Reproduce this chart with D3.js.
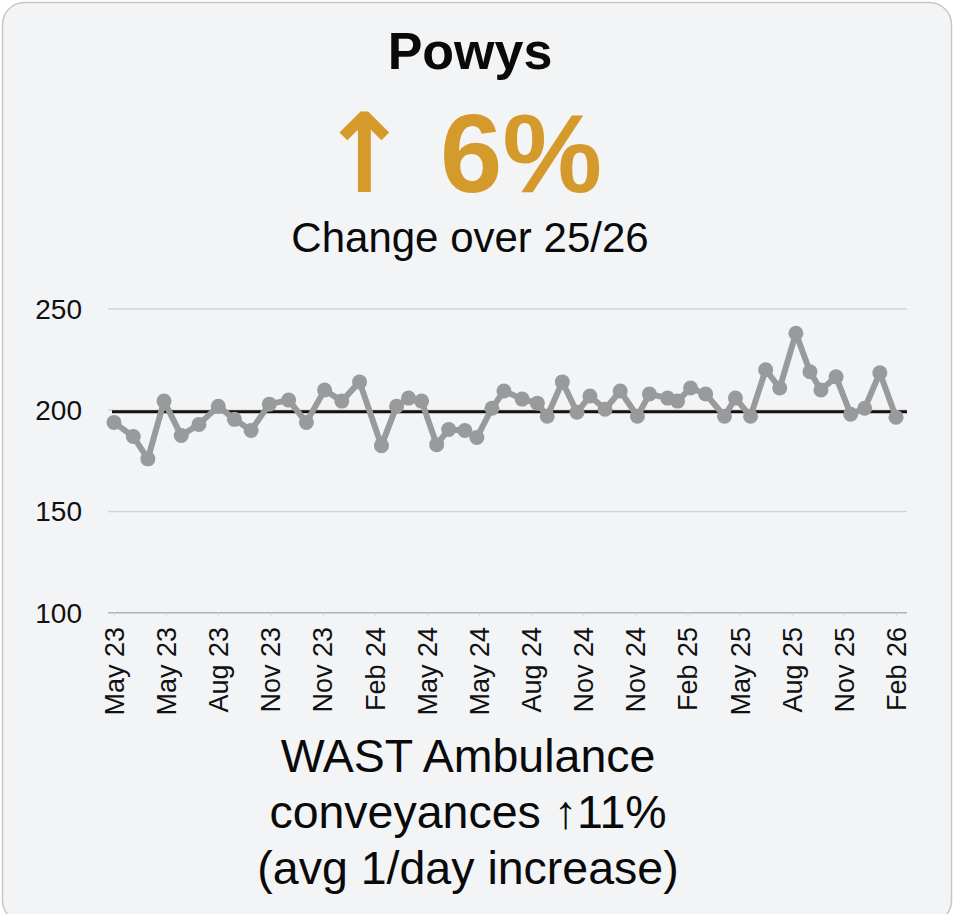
<!DOCTYPE html>
<html>
<head>
<meta charset="utf-8">
<script src="https://cdn.jsdelivr.net/npm/d3@7/dist/d3.min.js"></script>
<style>
  html, body { margin: 0; padding: 0; background: #ffffff; }
  svg { display: block; }
  text { font-family: "Liberation Sans", Arial, Helvetica, sans-serif; }
</style>
</head>
<body>
<svg id="chart" width="956" height="914"></svg>
<script>
// ---- Data ----
const title = "Powys";
const changeArrow = "↑";
const changeValue = "6%";
const subtitle = "Change over 25/26";
const footerLines = ["WAST Ambulance", "conveyances ↑11%", "(avg 1/day increase)"];

// Axis tick labels (one per label slot along the time axis)
const tickLabels = ["May 23","May 23","Aug 23","Nov 23","Nov 23","Feb 24","May 24","May 24",
                    "Aug 24","Nov 24","Nov 24","Feb 25","May 25","Aug 25","Nov 25","Feb 26"];
const yTicks = [100, 150, 200, 250];

// Time position of each observation, in label-slot units (0 = first label, 15 = last)
const period = [0.00,0.37,0.65,0.96,1.29,1.63,2.00,2.31,2.63,2.98,3.35,3.69,4.04,4.37,4.71,
                5.13,5.42,5.65,5.90,6.19,6.42,6.73,6.96,7.25,7.48,7.83,8.12,8.31,8.60,8.88,
                9.13,9.42,9.71,10.04,10.27,10.62,10.81,11.06,11.35,11.71,11.92,12.21,12.50,
                12.77,13.08,13.35,13.56,13.85,14.13,14.40,14.69,15.00];
// Conveyances per day
const conveyances = [194,187,176,204.5,187.5,193,202,195.5,190,203,205,194,210,204.5,214,
                     182.5,202,206,204.5,183,190.5,190,186.5,201,209.5,205.5,203.5,197,214,199,
                     207,200.5,209.5,197,208,206,204.5,211,208,197,206,197,220,211,238,
                     219,210,216.5,198,201,218.5,196.5];
const referenceLevel = 199.3;

// ---- Drawing ----
const svg = d3.select("#chart");
const gold = "#d59a2c";

// card
svg.append("rect")
  .attr("x", 2.5).attr("y", 2.5).attr("width", 949).attr("height", 920)
  .attr("rx", 22).attr("ry", 22)
  .attr("fill", "#f3f4f6").attr("stroke", "#c6c7c9").attr("stroke-width", 1.5);

// header texts
svg.append("text").attr("x", 470).attr("y", 68.5).attr("text-anchor", "middle")
  .attr("font-size", 52).attr("font-weight", "bold").attr("fill", "#0a0a0a").text(title);

const head = svg.append("text").attr("y", 192)
  .attr("font-weight", "bold").attr("fill", gold);
head.append("tspan").attr("x", 318)
  .attr("font-family", "'DejaVu Sans', sans-serif").attr("font-size", 110)
  .text(changeArrow);
head.append("tspan").attr("x", 409)
  .attr("font-size", 112).text(" " + changeValue);

svg.append("text").attr("x", 470).attr("y", 252).attr("text-anchor", "middle")
  .attr("font-size", 42).attr("fill", "#0a0a0a").text(subtitle);

// scales
const x = d3.scaleLinear().domain([0, tickLabels.length - 1]).range([114, 896]);
const y = d3.scaleLinear().domain([100, 250]).range([612.7, 309]);
const plotLeft = 108, plotRight = 907;

// gridlines
svg.append("g").selectAll("line").data(yTicks.filter(t => t !== 100)).join("line")
  .attr("x1", plotLeft).attr("x2", plotRight)
  .attr("y1", d => y(d)).attr("y2", d => y(d))
  .attr("stroke", "#d3d4d6").attr("stroke-width", 1.5);

// y axis labels
svg.append("g").selectAll("text").data(yTicks).join("text")
  .attr("x", 82).attr("y", d => y(d)).attr("dy", "0.35em")
  .attr("text-anchor", "end").attr("font-size", 28).attr("fill", "#111")
  .text(d => d);

// x axis (baseline + ticks)
const xAxis = d3.axisBottom(x)
  .tickValues(d3.range(tickLabels.length))
  .tickFormat("")
  .tickSizeInner(4).tickSizeOuter(0);
const xg = svg.append("g").attr("transform", `translate(0,${y(100)})`).call(xAxis);
xg.select(".domain").attr("d", `M${plotLeft},0H${plotRight}`)
  .attr("stroke", "#a9b3bd").attr("stroke-width", 1.5);
xg.selectAll(".tick line").attr("stroke", "#d8d8d8").attr("stroke-width", 1);

// x labels (rotated)
svg.append("g").selectAll("text").data(tickLabels).join("text")
  .attr("transform", (d, i) => `translate(${x(i) + 0.5},627) rotate(-90)`)
  .attr("dy", "0.35em").attr("text-anchor", "end")
  .attr("font-size", 27).attr("fill", "#111")
  .text(d => d);

// reference line
svg.append("line")
  .attr("x1", 112).attr("x2", plotRight)
  .attr("y1", y(referenceLevel)).attr("y2", y(referenceLevel))
  .attr("stroke", "#111").attr("stroke-width", 3);

// series line + markers
const pts = period.map((p, i) => ({ p, v: conveyances[i] }));
svg.append("path").datum(pts)
  .attr("d", d3.line().x(d => x(d.p)).y(d => y(d.v)))
  .attr("fill", "none").attr("stroke", "#999a9b").attr("stroke-width", 6)
  .attr("stroke-linejoin", "round");
svg.append("g").selectAll("circle").data(pts).join("circle")
  .attr("cx", d => x(d.p)).attr("cy", d => y(d.v)).attr("r", 7.5)
  .attr("fill", "#999a9b");

// footer
svg.append("g").selectAll("text").data(footerLines).join("text")
  .attr("x", 468).attr("y", (d, i) => 772 + i * 56)
  .attr("text-anchor", "middle").attr("font-size", 46.5).attr("fill", "#0a0a0a")
  .text(d => d);
</script>
</body>
</html>
